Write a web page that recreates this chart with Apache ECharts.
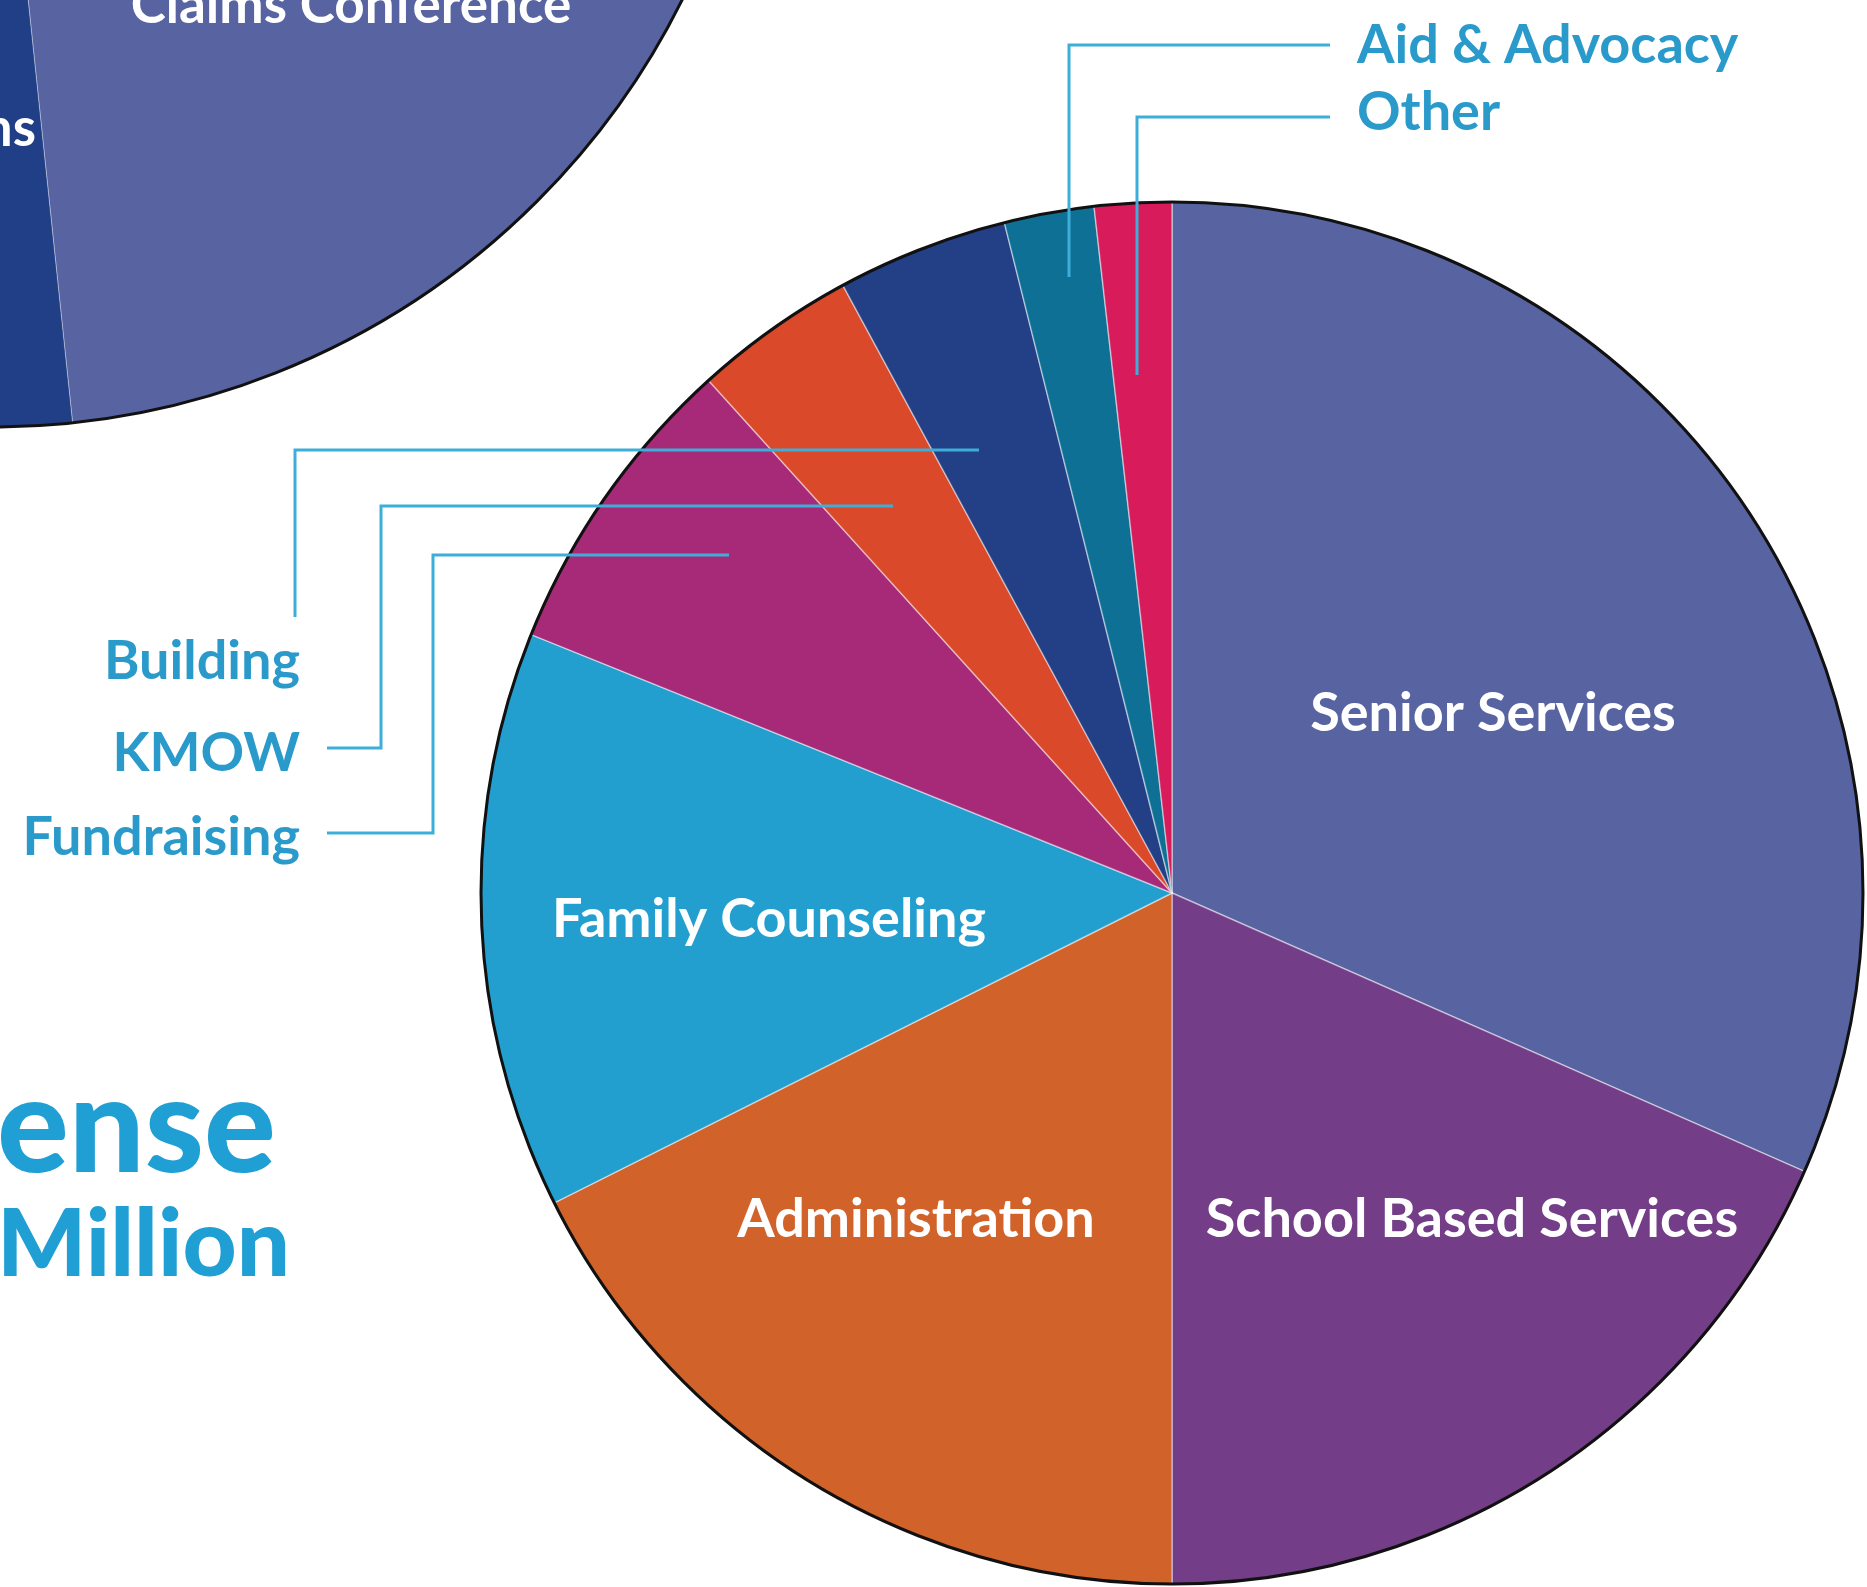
<!DOCTYPE html>
<html><head><meta charset="utf-8">
<script src="https://cdn.jsdelivr.net/npm/echarts@6/dist/echarts.min.js"></script>
<style>html,body{margin:0;padding:0;background:#fff}#c{width:1867px;height:1587px}</style>
</head><body><div id="c"></div>
<script>
// ---- data ----
const expenseCategories = ['Senior Services','School Based Services','Administration','Family Counseling','Fundraising','KMOW','Building','Aid & Advocacy','Other'];
const expenseValues = [31.6, 18.4, 17.6, 13.5, 7.2, 3.8, 4.0, 2.1, 1.8];
const revenueCategories = ['Claims Conference', 'ns'];
const revenueValues = [40, 60];
const titleLines = ['ense', 'Million'];

// ---- styles / layout ----
const expenseColors = ['#5864a1','#733d87','#d0622a','#229fcf','#a62a78','#da4a2a','#233f85','#0f7096','#d81b5b'];
const revenueColors = ['#5864a1','#213f87'];
const CYAN = '#2a9acb', LINE = '#3eaed8';
const FONT = 'Lato';
const expenseLabelSpots = [
  {x:1493, y:714, align:'center', inside:true},
  {x:1472, y:1220, align:'center', inside:true},
  {x:916,  y:1220, align:'center', inside:true},
  {x:769,  y:920, align:'center', inside:true},
  {x:300,  y:838, align:'right', pts:[[729,555],[433,555],[433,833],[327,833]]},
  {x:300,  y:754, align:'right', pts:[[893,506],[381,506],[381,748],[327,748]]},
  {x:300,  y:662, align:'right', pts:[[979,450],[295,450],[295,617]]},
  {x:1357, y:46,  align:'left',  pts:[[1069,277],[1069,45],[1330,45]]},
  {x:1357, y:113, align:'left',  pts:[[1137,375],[1137,117],[1330,117]]}
];
const revenueLabelSpots = [
  {x:351, y:6, align:'center'},
  {x:36, y:129, align:'right'}
];

const chart = echarts.init(document.getElementById('c'), null, {renderer:'canvas'});

const expenseData = expenseCategories.map((n, i) => {
  const s = expenseLabelSpots[i];
  return {
    name: n, value: expenseValues[i],
    itemStyle: {color: expenseColors[i]},
    label: {position:'inside', color: s.inside ? '#fff' : CYAN}
  };
});
const revenueData = revenueCategories.map((n, i) => ({
  name: n, value: revenueValues[i], itemStyle:{color: revenueColors[i]}
}));

const leaderLines = expenseLabelSpots.filter(s => s.pts).map(s => ({
  type:'polyline', z: 100, silent:true,
  shape:{points: s.pts},
  style:{stroke: LINE, lineWidth: 3, fill: null}
}));

chart.setOption({
  animation: false,
  backgroundColor: '#fff',
  graphic: [
    {type:'text', left: -3, top: 1062, style:{text: titleLines[0], font:`900 134px ${FONT}`, fill:'#1f9fd3'}},
    {type:'text', left: -3, top: 1199, style:{text: titleLines[1], font:`900 94px ${FONT}`, fill:'#1f9fd3'}}
  ].concat(leaderLines),
  series: [
    {
      type:'pie', center:[-8,-344], radius: 771, startAngle: 60, clockwise:true,
      avoidLabelOverlap:false, silent:true,
      itemStyle:{borderColor:'rgba(255,255,255,0.35)', borderWidth:1},
      label:{show:true, position:'inside', formatter:'{b}', color:'#fff', fontFamily:FONT, fontWeight:'bold', fontSize:53},
      labelLine:{show:false},
      labelLayout: p => { const s = revenueLabelSpots[p.dataIndex]; return {x:s.x, y:s.y, align:s.align, verticalAlign:'middle'}; },
      data: revenueData
    },
    {
      type:'pie', center:[-8,-344], radius: 771, silent:true, label:{show:false}, labelLine:{show:false},
      itemStyle:{color:'rgba(0,0,0,0)', borderColor:'#111', borderWidth:3},
      data:[{value:1, name:''}]
    },
    {
      type:'pie', center:[1172,893], radius: 691, startAngle: 90, clockwise:true,
      avoidLabelOverlap:false, silent:true,
      itemStyle:{borderColor:'rgba(255,255,255,0.45)', borderWidth:1.5},
      label:{show:true, formatter:'{b}', fontFamily:FONT, fontWeight:'bold', fontSize:54},
      labelLine:{show:false},
      labelLayout: p => {
        const s = expenseLabelSpots[p.dataIndex];
        return {x:s.x, y:s.y, align:s.align, verticalAlign:'middle'};
      },
      data: expenseData
    },
    {
      type:'pie', center:[1172,893], radius: 691, silent:true, label:{show:false}, labelLine:{show:false},
      itemStyle:{color:'rgba(0,0,0,0)', borderColor:'#111', borderWidth:3},
      data:[{value:1, name:''}]
    }
  ]
});
</script></body></html>
